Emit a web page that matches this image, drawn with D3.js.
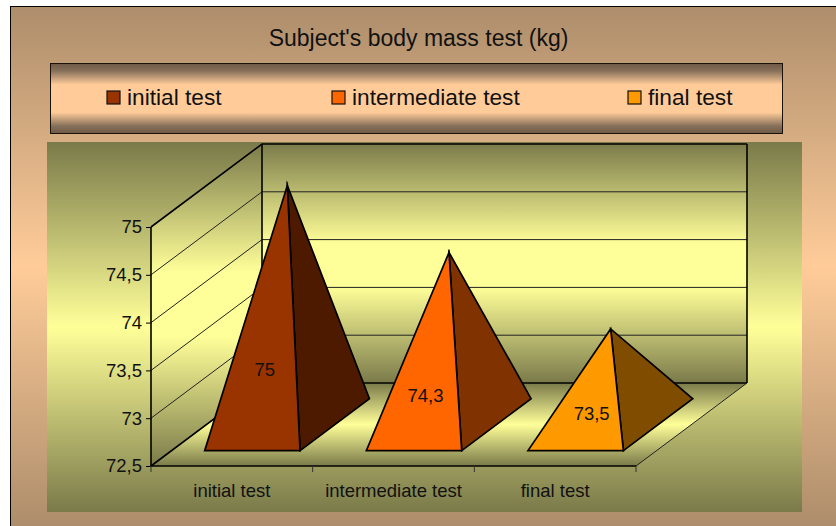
<!DOCTYPE html>
<html>
<head>
  <meta charset="utf-8">
  <title>body mass test</title>
  <style>
    body { margin: 0; background: #fff; }
    svg { display: block; }
    text { font-family: "Liberation Sans", Arial, sans-serif; fill: #111; }
    .axis path { display: none; }
    .axis text { fill: #111; }
  </style>
  <script src="https://d3js.org/d3.v7.min.js"></script>
</head>
<body>
<script>
  var titleText = "Subject's body mass test (kg)";
  var categories = ["initial test", "intermediate test", "final test"];
  var values = [75, 74.3, 73.5];
  var yTicks = [72.5, 73, 73.5, 74, 74.5, 75];

  var frontColors = ["#993300", "#FF6600", "#FF9900"];
  var sideColors = ["#4D1A00", "#803300", "#804D00"];

  var width = 836, height = 526;

  // oblique projection: depth 0 = front edge, depth 1 = back wall
  var depthX = 111, depthY = -83;
  var plot = {left: 151, right: 636, top: 227, bottom: 466};

  var x = d3.scaleBand().domain(categories).range([plot.left, plot.right]);
  var y = d3.scaleLinear().domain([72.5, 75]).range([plot.bottom, plot.top]);

  function project(px, py, depth) {
    return [px + depth * depthX, py + depth * depthY];
  }
  function poly(points) {
    return d3.line()(points) + "Z";
  }
  function comma(v) {
    return String(v).replace(".", ",");
  }

  var svg = d3.select("body").append("svg")
    .attr("width", width)
    .attr("height", height);

  var defs = svg.append("defs");
  function gradient(id, y1, y2, stops) {
    var g = defs.append("linearGradient")
      .attr("id", id)
      .attr("gradientUnits", "userSpaceOnUse")
      .attr("x1", 0).attr("x2", 0).attr("y1", y1).attr("y2", y2);
    stops.forEach(function(s) {
      g.append("stop").attr("offset", s[0]).attr("stop-color", s[1]);
    });
  }
  var olive = "#7A7A4A", pale = "#FFFF99";
  gradient("bgGrad", 6, 526, [[0, "#AD8D6B"], [0.5, "#FFCC99"], [1, "#AD8D6B"]]);
  gradient("legendGrad", 64, 133, [[0, "#6F5A47"], [0.1, "#86705A"], [0.3, "#FFCC99"], [0.7, "#FFCC99"], [0.9, "#86705A"], [1, "#6F5A47"]]);
  gradient("plotGrad", 142, 512, [[0, olive], [0.5, pale], [1, olive]]);
  gradient("backGrad", 143, 383, [[0, olive], [0.42, pale], [0.6, pale], [1, olive]]);
  gradient("sideGrad", 143, 466, [[0, olive], [0.4, pale], [0.6, pale], [1, olive]]);
  gradient("floorGrad", 383, 466, [[0, olive], [0.5, pale], [1, olive]]);

  // outer panel, runs off the right and bottom edge of the page
  svg.append("rect")
    .attr("x", 10.5).attr("y", 6.5)
    .attr("width", 900).attr("height", 600)
    .attr("fill", "url(#bgGrad)")
    .attr("stroke", "#000");

  svg.append("text")
    .attr("x", 418.5).attr("y", 46)
    .attr("text-anchor", "middle")
    .style("font-size", "23px")
    .text(titleText);

  // legend
  svg.append("rect")
    .attr("x", 50.5).attr("y", 63.5)
    .attr("width", 732).attr("height", 70)
    .attr("fill", "url(#legendGrad)")
    .attr("stroke", "#1a1208");

  var legendX = d3.scaleOrdinal().domain(categories).range([107, 332, 628]);
  var legend = svg.selectAll(".legend-item")
    .data(categories)
    .enter().append("g")
      .attr("class", "legend-item")
      .attr("transform", function(d) { return "translate(" + legendX(d) + ",91)"; });
  legend.append("rect")
    .attr("width", 13).attr("height", 13)
    .attr("fill", function(d, i) { return frontColors[i]; })
    .attr("stroke", "#111")
    .attr("stroke-width", 1.2);
  legend.append("text")
    .attr("x", 20).attr("y", 14)
    .style("font-size", "22.7px")
    .text(function(d) { return d; });

  // chart area background
  svg.append("rect")
    .attr("x", 47).attr("y", 142)
    .attr("width", 755).attr("height", 370)
    .attr("fill", "url(#plotGrad)");

  var chart = svg.append("g");

  // walls and floor
  var yMin = y.domain()[0], yMax = y.domain()[1];
  chart.append("path")
    .attr("d", poly([project(plot.left, y(yMin), 0), project(plot.left, y(yMin), 1),
                     project(plot.right, y(yMin), 1), project(plot.right, y(yMin), 0)]))
    .attr("fill", "url(#floorGrad)");
  chart.append("path")
    .attr("d", poly([project(plot.left, y(yMax), 1), project(plot.right, y(yMax), 1),
                     project(plot.right, y(yMin), 1), project(plot.left, y(yMin), 1)]))
    .attr("fill", "url(#backGrad)");
  chart.append("path")
    .attr("d", poly([project(plot.left, y(yMax), 0), project(plot.left, y(yMax), 1),
                     project(plot.left, y(yMin), 1), project(plot.left, y(yMin), 0)]))
    .attr("fill", "url(#sideGrad)");

  // gridlines on both walls
  chart.selectAll(".grid")
    .data(yTicks)
    .enter().append("path")
      .attr("class", "grid")
      .attr("d", function(d) {
        return d3.line()([project(plot.left, y(d), 0), project(plot.left, y(d), 1), project(plot.right, y(d), 1)]);
      })
      .attr("fill", "none")
      .attr("stroke", function(d) { return d === yMin || d === yMax ? "#000" : "#222"; })
      .attr("stroke-width", function(d) { return d === yMin || d === yMax ? 1.6 : 1; });

  // wall edges
  var edges = [
    [project(plot.left, y(yMin), 0), project(plot.left, y(yMax), 0)],
    [project(plot.left, y(yMin), 1), project(plot.left, y(yMax), 1)],
    [project(plot.right, y(yMin), 1), project(plot.right, y(yMax), 1)],
    [project(plot.left, y(yMin), 0), project(plot.right, y(yMin), 0)]
  ];
  chart.selectAll(".edge")
    .data(edges)
    .enter().append("path")
      .attr("class", "edge")
      .attr("d", function(d) { return d3.line()(d); })
      .attr("stroke", "#000")
      .attr("stroke-width", 1.6);

  chart.append("path")
    .attr("d", d3.line()([project(plot.right, y(yMin), 0), project(plot.right, y(yMin), 1)]))
    .attr("stroke", "#222")
    .attr("stroke-width", 1);

  // axes
  var yAxis = d3.axisLeft(y).tickValues(yTicks).tickSize(5).tickPadding(4).tickFormat(comma);
  svg.append("g")
    .attr("class", "axis")
    .attr("transform", "translate(" + plot.left + ",0)")
    .call(yAxis)
    .style("font-family", null)
    .selectAll("text").style("font-size", "18.5px");

  var xAxis = d3.axisBottom(x).tickSize(0).tickPadding(18);
  svg.append("g")
    .attr("class", "axis")
    .attr("transform", "translate(0," + plot.bottom + ")")
    .call(xAxis)
    .style("font-family", null)
    .selectAll("text").style("font-size", "18.5px");

  // tick marks sit between the categories
  var xEdges = categories.map(function(d) { return x(d); }).concat([plot.right]);
  svg.selectAll(".xtick")
    .data(xEdges)
    .enter().append("line")
      .attr("class", "xtick")
      .attr("x1", function(d) { return d; })
      .attr("x2", function(d) { return d; })
      .attr("y1", plot.bottom)
      .attr("y2", plot.bottom + 6)
      .attr("stroke", "#333");

  // pyramids: base spans 0.59 of the band and depth .185 to .81
  var baseShare = 0.59, nearZ = 0.185, farZ = 0.81;
  var pyramids = chart.selectAll(".pyramid")
    .data(values)
    .enter().append("g")
      .attr("class", "pyramid")
      .attr("stroke-miterlimit", 10);

  function geometry(v, i) {
    var c = x(categories[i]) + x.bandwidth() / 2;
    var half = x.bandwidth() * baseShare / 2;
    return {
      frontLeft: project(c - half, y(yMin), nearZ),
      frontRight: project(c + half, y(yMin), nearZ),
      backRight: project(c + half, y(yMin), farZ),
      apex: project(c, y(v), 0.5),
      center: c
    };
  }

  pyramids.append("path")
    .attr("d", function(d, i) {
      var g = geometry(d, i);
      return poly([g.frontRight, g.backRight, g.apex]);
    })
    .attr("fill", function(d, i) { return sideColors[i]; })
    .attr("stroke", "#000")
    .attr("stroke-width", 1.7);

  pyramids.append("path")
    .attr("d", function(d, i) {
      var g = geometry(d, i);
      return poly([g.frontLeft, g.frontRight, g.apex]);
    })
    .attr("fill", function(d, i) { return frontColors[i]; })
    .attr("stroke", "#000")
    .attr("stroke-width", 1.7);

  // value labels sit about 70% of the way down the front face
  var labelNudgeX = [-1, -2, 2.5];
  var labelNudgeY = [-1, 5, 0];
  pyramids.append("text")
    .attr("x", function(d, i) { return geometry(d, i).center + 34 + labelNudgeX[i]; })
    .attr("y", function(d, i) {
      var g = geometry(d, i);
      return g.apex[1] + 0.7 * (g.frontLeft[1] - g.apex[1]) + 6 + labelNudgeY[i];
    })
    .attr("text-anchor", "middle")
    .style("font-size", "18.5px")
    .text(comma);
</script>
</body>
</html>
